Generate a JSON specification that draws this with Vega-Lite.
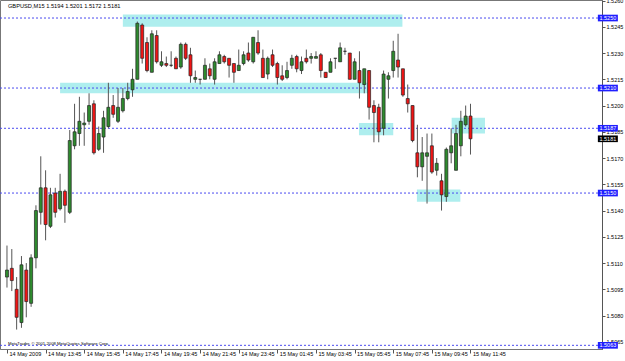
{
  "$schema": "https://vega.github.io/schema/vega-lite/v6.json",
  "width": 602,
  "height": 349,
  "autosize": "none",
  "padding": {"left": 0, "top": 0, "right": 23, "bottom": 12},
  "background": "white",
  "config": {
    "view": {"stroke": "#777", "strokeWidth": 1},
    "font": "Liberation Sans",
    "axisX": {
      "labelAlign": "left", "labelOffset": 2, "labelFont": "Liberation Sans", "labelFontSize": 5.5, "labelColor": "#000",
      "tickSize": 4, "tickColor": "#555", "domainColor": "#777", "labelPadding": -2, "labelBaseline": "top",
      "grid": false, "title": null, "labelOverlap": false, "labelFlush": false, "labelBound": false},
    "axisY": {
      "title": null, "grid": false, "labelFont": "Liberation Sans", "labelFontSize": 5.5, "labelColor": "#000",
      "tickSize": 3, "tickColor": "#555", "domainColor": "#555", "labelPadding": 1, "labelFlush": false, "labelOverlap": false, "labelBound": false}
  },
  "datasets": {
    "candles": [
      {"i":0,"o":1.5102,"h":1.5120,"l":1.5096,"c":1.5106},
      {"i":1,"o":1.5107,"h":1.5118,"l":1.5094,"c":1.5100},
      {"i":2,"o":1.5095,"h":1.5102,"l":1.5072,"c":1.5079},
      {"i":3,"o":1.5076,"h":1.5114,"l":1.5073,"c":1.5109},
      {"i":4,"o":1.5106,"h":1.5110,"l":1.5079,"c":1.5088},
      {"i":5,"o":1.5087,"h":1.5115,"l":1.5085,"c":1.5113},
      {"i":6,"o":1.5113,"h":1.5143,"l":1.5107,"c":1.5140},
      {"i":7,"o":1.5139,"h":1.5171,"l":1.5132,"c":1.5153},
      {"i":8,"o":1.5153,"h":1.5163,"l":1.5123,"c":1.5132},
      {"i":9,"o":1.5131,"h":1.5153,"l":1.5130,"c":1.5149},
      {"i":10,"o":1.5150,"h":1.5153,"l":1.5136,"c":1.5139},
      {"i":11,"o":1.5141,"h":1.5161,"l":1.5140,"c":1.5151},
      {"i":12,"o":1.5151,"h":1.5152,"l":1.5133,"c":1.5143},
      {"i":13,"o":1.5139,"h":1.5186,"l":1.5138,"c":1.5180},
      {"i":14,"o":1.5177,"h":1.5201,"l":1.5175,"c":1.5185},
      {"i":15,"o":1.5184,"h":1.5205,"l":1.5177,"c":1.5191},
      {"i":16,"o":1.5189,"h":1.5196,"l":1.5177,"c":1.5190},
      {"i":17,"o":1.5191,"h":1.5207,"l":1.5189,"c":1.5200},
      {"i":18,"o":1.5201,"h":1.5203,"l":1.5172,"c":1.5173},
      {"i":19,"o":1.5175,"h":1.5188,"l":1.5174,"c":1.5184},
      {"i":20,"o":1.5182,"h":1.5197,"l":1.5173,"c":1.5193},
      {"i":21,"o":1.5188,"h":1.5213,"l":1.5187,"c":1.5199},
      {"i":22,"o":1.5200,"h":1.5206,"l":1.5193,"c":1.5195},
      {"i":23,"o":1.5191,"h":1.5210,"l":1.5190,"c":1.5199},
      {"i":24,"o":1.5197,"h":1.5210,"l":1.5196,"c":1.5204},
      {"i":25,"o":1.5204,"h":1.5213,"l":1.5203,"c":1.5208},
      {"i":26,"o":1.5209,"h":1.5221,"l":1.5205,"c":1.5215},
      {"i":27,"o":1.5215,"h":1.5248,"l":1.5215,"c":1.5247},
      {"i":28,"o":1.5246,"h":1.5247,"l":1.5224,"c":1.5227},
      {"i":29,"o":1.5236,"h":1.5239,"l":1.5219,"c":1.5220},
      {"i":30,"o":1.5219,"h":1.5243,"l":1.5219,"c":1.5241},
      {"i":31,"o":1.5240,"h":1.5243,"l":1.5224,"c":1.5225},
      {"i":32,"o":1.5223,"h":1.5231,"l":1.5222,"c":1.5225},
      {"i":33,"o":1.5224,"h":1.5228,"l":1.5222,"c":1.5223},
      {"i":34,"o":1.5223,"h":1.5231,"l":1.5222,"c":1.5223},
      {"i":35,"o":1.5227,"h":1.5228,"l":1.5221,"c":1.5221},
      {"i":36,"o":1.5222,"h":1.5236,"l":1.5221,"c":1.5235},
      {"i":37,"o":1.5235,"h":1.5236,"l":1.5226,"c":1.5227},
      {"i":38,"o":1.5229,"h":1.5233,"l":1.5213,"c":1.5217},
      {"i":39,"o":1.5215,"h":1.5220,"l":1.5213,"c":1.5216},
      {"i":40,"o":1.5215,"h":1.5215,"l":1.5212,"c":1.5215},
      {"i":41,"o":1.5215,"h":1.5227,"l":1.5215,"c":1.5223},
      {"i":42,"o":1.5221,"h":1.5224,"l":1.5215,"c":1.5217},
      {"i":43,"o":1.5215,"h":1.5227,"l":1.5212,"c":1.5225},
      {"i":44,"o":1.5224,"h":1.5231,"l":1.5224,"c":1.5229},
      {"i":45,"o":1.5228,"h":1.5229,"l":1.5224,"c":1.5225},
      {"i":46,"o":1.5227,"h":1.5227,"l":1.5216,"c":1.5223},
      {"i":47,"o":1.5224,"h":1.5224,"l":1.5213,"c":1.5219},
      {"i":48,"o":1.5220,"h":1.5232,"l":1.5220,"c":1.5223},
      {"i":49,"o":1.5224,"h":1.5231,"l":1.5223,"c":1.5229},
      {"i":50,"o":1.5230,"h":1.5236,"l":1.5225,"c":1.5226},
      {"i":51,"o":1.5225,"h":1.5239,"l":1.5224,"c":1.5239},
      {"i":52,"o":1.5236,"h":1.5243,"l":1.5229,"c":1.5230},
      {"i":53,"o":1.5227,"h":1.5232,"l":1.5216,"c":1.5216},
      {"i":54,"o":1.5218,"h":1.5228,"l":1.5215,"c":1.5227},
      {"i":55,"o":1.5229,"h":1.5232,"l":1.5222,"c":1.5223},
      {"i":56,"o":1.5224,"h":1.5225,"l":1.5212,"c":1.5216},
      {"i":57,"o":1.5217,"h":1.5223,"l":1.5214,"c":1.5215},
      {"i":58,"o":1.5216,"h":1.5225,"l":1.5215,"c":1.5220},
      {"i":59,"o":1.5223,"h":1.5229,"l":1.5221,"c":1.5227},
      {"i":60,"o":1.5228,"h":1.5229,"l":1.5219,"c":1.5221},
      {"i":61,"o":1.5220,"h":1.5228,"l":1.5218,"c":1.5225},
      {"i":62,"o":1.5227,"h":1.5232,"l":1.5224,"c":1.5225},
      {"i":63,"o":1.5227,"h":1.5230,"l":1.5224,"c":1.5228},
      {"i":64,"o":1.5227,"h":1.5231,"l":1.5227,"c":1.5228},
      {"i":65,"o":1.5229,"h":1.5230,"l":1.5216,"c":1.5220},
      {"i":66,"o":1.5219,"h":1.5219,"l":1.5216,"c":1.5216},
      {"i":67,"o":1.5219,"h":1.5227,"l":1.5219,"c":1.5225},
      {"i":68,"o":1.5227,"h":1.5227,"l":1.5221,"c":1.5227},
      {"i":69,"o":1.5225,"h":1.5236,"l":1.5225,"c":1.5233},
      {"i":70,"o":1.5231,"h":1.5233,"l":1.5229,"c":1.5231},
      {"i":71,"o":1.5230,"h":1.5230,"l":1.5215,"c":1.5215},
      {"i":72,"o":1.5215,"h":1.5227,"l":1.5215,"c":1.5225},
      {"i":73,"o":1.5220,"h":1.5231,"l":1.5204,"c":1.5213},
      {"i":74,"o":1.5212,"h":1.5221,"l":1.5207,"c":1.5221},
      {"i":75,"o":1.5220,"h":1.5220,"l":1.5192,"c":1.5199},
      {"i":76,"o":1.5200,"h":1.5203,"l":1.5179,"c":1.5196},
      {"i":77,"o":1.5199,"h":1.5201,"l":1.5179,"c":1.5185},
      {"i":78,"o":1.5187,"h":1.5220,"l":1.5183,"c":1.5218},
      {"i":79,"o":1.5215,"h":1.5219,"l":1.5204,"c":1.5217},
      {"i":80,"o":1.5220,"h":1.5237,"l":1.5216,"c":1.5231},
      {"i":81,"o":1.5226,"h":1.5241,"l":1.5216,"c":1.5222},
      {"i":82,"o":1.5221,"h":1.5221,"l":1.5205,"c":1.5206},
      {"i":83,"o":1.5204,"h":1.5212,"l":1.5196,"c":1.5201},
      {"i":84,"o":1.5200,"h":1.5200,"l":1.5179,"c":1.5180},
      {"i":85,"o":1.5173,"h":1.5189,"l":1.5159,"c":1.5165},
      {"i":86,"o":1.5165,"h":1.5182,"l":1.5157,"c":1.5173},
      {"i":87,"o":1.5171,"h":1.5184,"l":1.5144,"c":1.5173},
      {"i":88,"o":1.5177,"h":1.5184,"l":1.5161,"c":1.5162},
      {"i":89,"o":1.5163,"h":1.5170,"l":1.5160,"c":1.5167},
      {"i":90,"o":1.5157,"h":1.5161,"l":1.5140,"c":1.5149},
      {"i":91,"o":1.5148,"h":1.5176,"l":1.5145,"c":1.5175},
      {"i":92,"o":1.5173,"h":1.5187,"l":1.5167,"c":1.5177},
      {"i":93,"o":1.5163,"h":1.5189,"l":1.5163,"c":1.5184},
      {"i":94,"o":1.5177,"h":1.5197,"l":1.5171,"c":1.5191},
      {"i":95,"o":1.5189,"h":1.5200,"l":1.5188,"c":1.5194},
      {"i":96,"o":1.5194,"h":1.5201,"l":1.5172,"c":1.5181}
    ],
    "zones": [
      {"x0":24.0,"x1":81.9,"p0":1.5245,"p1":1.5252},
      {"x0":11.0,"x1":74.9,"p0":1.5207,"p1":1.5213},
      {"x0":72.9,"x1":80.0,"p0":1.5183,"p1":1.5190},
      {"x0":92.1,"x1":99.0,"p0":1.5184,"p1":1.5193},
      {"x0":84.9,"x1":93.9,"p0":1.5145,"p1":1.5152}
    ],
    "levels": [
      {"level":1.5250,"kind":"line"},
      {"level":1.5210,"kind":"line"},
      {"level":1.5187,"kind":"line"},
      {"level":1.5150,"kind":"line"},
      {"level":1.5063,"kind":"line"},
      {"level":1.5181,"kind":"close"}
    ]
  },
  "layer": [
    {
      "data": {"name": "zones"},
      "mark": {"type": "rect", "color": "#aeeeee"},
      "encoding": {
        "x": {"field": "x0", "type": "quantitative", "title": null, "scale": {"domain": [-0.41, 122.2], "nice": false, "zero": false},
          "axis": {"orient": "bottom", "values": [0, 8, 16, 24, 32, 40, 48, 56, 64, 72, 80, 88, 96],
            "labelExpr": "['14 May 2009','14 May 13:45','14 May 15:45','14 May 17:45','14 May 19:45','14 May 21:45','14 May 23:45','15 May 01:45','15 May 03:45','15 May 05:45','15 May 07:45','15 May 09:45','15 May 11:45'][round(datum.value/8)]"}},
        "x2": {"field": "x1"},
        "y": {"field": "p0", "type": "quantitative", "title": null, "scale": {"domain": [1.50609, 1.52603], "nice": false, "zero": false},
          "axis": {"orient": "right", "format": ".4f", "values": [1.5065, 1.508, 1.5095, 1.511, 1.5125, 1.514, 1.5155, 1.517, 1.5185, 1.52, 1.5215, 1.523, 1.5245, 1.526]}},
        "y2": {"field": "p1"}
      }
    },
    {
      "data": {"name": "levels"},
      "transform": [{"filter": "datum.kind == 'line'"}],
      "mark": {"type": "rule", "color": "#4b4bf0", "strokeDash": [2, 2], "strokeWidth": 1},
      "encoding": {
        "y": {"field": "level", "type": "quantitative", "title": null, "scale": {"domain": [1.50609, 1.52603], "nice": false, "zero": false},
          "axis": {"orient": "right", "format": ".4f", "values": [1.5065, 1.508, 1.5095, 1.511, 1.5125, 1.514, 1.5155, 1.517, 1.5185, 1.52, 1.5215, 1.523, 1.5245, 1.526]}}
      }
    },
    {
      "data": {"name": "candles"},
      "mark": {"type": "rule", "color": "#555555", "strokeWidth": 1},
      "encoding": {
        "x": {"field": "i", "type": "quantitative", "title": null, "scale": {"domain": [-0.41, 122.2], "nice": false, "zero": false},
          "axis": {"orient": "bottom", "values": [0, 8, 16, 24, 32, 40, 48, 56, 64, 72, 80, 88, 96],
            "labelExpr": "['14 May 2009','14 May 13:45','14 May 15:45','14 May 17:45','14 May 19:45','14 May 21:45','14 May 23:45','15 May 01:45','15 May 03:45','15 May 05:45','15 May 07:45','15 May 09:45','15 May 11:45'][round(datum.value/8)]"}},
        "y": {"field": "l", "type": "quantitative", "title": null, "scale": {"domain": [1.50609, 1.52603], "nice": false, "zero": false},
          "axis": {"orient": "right", "format": ".4f", "values": [1.5065, 1.508, 1.5095, 1.511, 1.5125, 1.514, 1.5155, 1.517, 1.5185, 1.52, 1.5215, 1.523, 1.5245, 1.526]}},
        "y2": {"field": "h"}
      }
    },
    {
      "data": {"name": "candles"},
      "mark": {"type": "bar", "size": 3, "stroke": "#222222", "strokeWidth": 0.7},
      "encoding": {
        "x": {"field": "i", "type": "quantitative", "title": null, "scale": {"domain": [-0.41, 122.2], "nice": false, "zero": false},
          "axis": {"orient": "bottom", "values": [0, 8, 16, 24, 32, 40, 48, 56, 64, 72, 80, 88, 96],
            "labelExpr": "['14 May 2009','14 May 13:45','14 May 15:45','14 May 17:45','14 May 19:45','14 May 21:45','14 May 23:45','15 May 01:45','15 May 03:45','15 May 05:45','15 May 07:45','15 May 09:45','15 May 11:45'][round(datum.value/8)]"}},
        "y": {"field": "o", "type": "quantitative", "title": null, "scale": {"domain": [1.50609, 1.52603], "nice": false, "zero": false},
          "axis": {"orient": "right", "format": ".4f", "values": [1.5065, 1.508, 1.5095, 1.511, 1.5125, 1.514, 1.5155, 1.517, 1.5185, 1.52, 1.5215, 1.523, 1.5245, 1.526]}},
        "y2": {"field": "c"},
        "fill": {"condition": {"test": "datum.c >= datum.o", "value": "#2e8b2e"}, "value": "#f01515"}
      }
    },
    {
      "data": {"name": "levels"},
      "mark": {"type": "point", "shape": "M-1.5,-0.5H1.5V0.5H-1.5Z", "filled": true, "size": 178, "opacity": 1},
      "encoding": {
        "x": {"datum": 124.45, "type": "quantitative", "title": null, "scale": {"domain": [-0.41, 122.2], "nice": false, "zero": false},
          "axis": {"orient": "bottom", "values": [0, 8, 16, 24, 32, 40, 48, 56, 64, 72, 80, 88, 96],
            "labelExpr": "['14 May 2009','14 May 13:45','14 May 15:45','14 May 17:45','14 May 19:45','14 May 21:45','14 May 23:45','15 May 01:45','15 May 03:45','15 May 05:45','15 May 07:45','15 May 09:45','15 May 11:45'][round(datum.value/8)]"}},
        "y": {"field": "level", "type": "quantitative", "title": null, "scale": {"domain": [1.50609, 1.52603], "nice": false, "zero": false},
          "axis": {"orient": "right", "format": ".4f", "values": [1.5065, 1.508, 1.5095, 1.511, 1.5125, 1.514, 1.5155, 1.517, 1.5185, 1.52, 1.5215, 1.523, 1.5245, 1.526]}},
        "color": {"condition": {"test": "datum.kind == 'close'", "value": "#000000"}, "value": "#1f1fff"}
      }
    },
    {
      "data": {"name": "levels"},
      "mark": {"type": "text", "color": "white", "fontSize": 5.5, "font": "Liberation Sans", "baseline": "middle", "align": "center"},
      "encoding": {
        "x": {"datum": 124.45, "type": "quantitative", "title": null, "scale": {"domain": [-0.41, 122.2], "nice": false, "zero": false},
          "axis": {"orient": "bottom", "values": [0, 8, 16, 24, 32, 40, 48, 56, 64, 72, 80, 88, 96],
            "labelExpr": "['14 May 2009','14 May 13:45','14 May 15:45','14 May 17:45','14 May 19:45','14 May 21:45','14 May 23:45','15 May 01:45','15 May 03:45','15 May 05:45','15 May 07:45','15 May 09:45','15 May 11:45'][round(datum.value/8)]"}},
        "y": {"field": "level", "type": "quantitative", "title": null, "scale": {"domain": [1.50609, 1.52603], "nice": false, "zero": false},
          "axis": {"orient": "right", "format": ".4f", "values": [1.5065, 1.508, 1.5095, 1.511, 1.5125, 1.514, 1.5155, 1.517, 1.5185, 1.52, 1.5215, 1.523, 1.5245, 1.526]}},
        "text": {"field": "level", "type": "quantitative", "format": ".4f"}
      }
    },
    {
      "data": {"values": [{}]},
      "mark": {"type": "text", "text": "GBPUSD,M15  1.5194 1.5201 1.5172 1.5181", "color": "#000", "fontSize": 5.7, "font": "Liberation Sans", "baseline": "middle", "align": "left"},
      "encoding": {
        "x": {"datum": 0.2, "type": "quantitative", "title": null, "scale": {"domain": [-0.41, 122.2], "nice": false, "zero": false},
          "axis": {"orient": "bottom", "values": [0, 8, 16, 24, 32, 40, 48, 56, 64, 72, 80, 88, 96],
            "labelExpr": "['14 May 2009','14 May 13:45','14 May 15:45','14 May 17:45','14 May 19:45','14 May 21:45','14 May 23:45','15 May 01:45','15 May 03:45','15 May 05:45','15 May 07:45','15 May 09:45','15 May 11:45'][round(datum.value/8)]"}},
        "y": {"datum": 1.52571, "type": "quantitative", "title": null, "scale": {"domain": [1.50609, 1.52603], "nice": false, "zero": false},
          "axis": {"orient": "right", "format": ".4f", "values": [1.5065, 1.508, 1.5095, 1.511, 1.5125, 1.514, 1.5155, 1.517, 1.5185, 1.52, 1.5215, 1.523, 1.5245, 1.526]}}
      }
    },
    {
      "data": {"values": [{}]},
      "mark": {"type": "text", "text": "MetaTrader, © 2001-2008 MetaQuotes Software Corp.", "color": "#000", "fontSize": 4.2, "font": "Liberation Sans", "baseline": "middle", "align": "left"},
      "encoding": {
        "x": {"datum": 0.2, "type": "quantitative", "title": null, "scale": {"domain": [-0.41, 122.2], "nice": false, "zero": false},
          "axis": {"orient": "bottom", "values": [0, 8, 16, 24, 32, 40, 48, 56, 64, 72, 80, 88, 96],
            "labelExpr": "['14 May 2009','14 May 13:45','14 May 15:45','14 May 17:45','14 May 19:45','14 May 21:45','14 May 23:45','15 May 01:45','15 May 03:45','15 May 05:45','15 May 07:45','15 May 09:45','15 May 11:45'][round(datum.value/8)]"}},
        "y": {"datum": 1.5064, "type": "quantitative", "title": null, "scale": {"domain": [1.50609, 1.52603], "nice": false, "zero": false},
          "axis": {"orient": "right", "format": ".4f", "values": [1.5065, 1.508, 1.5095, 1.511, 1.5125, 1.514, 1.5155, 1.517, 1.5185, 1.52, 1.5215, 1.523, 1.5245, 1.526]}}
      }
    }
  ]
}
